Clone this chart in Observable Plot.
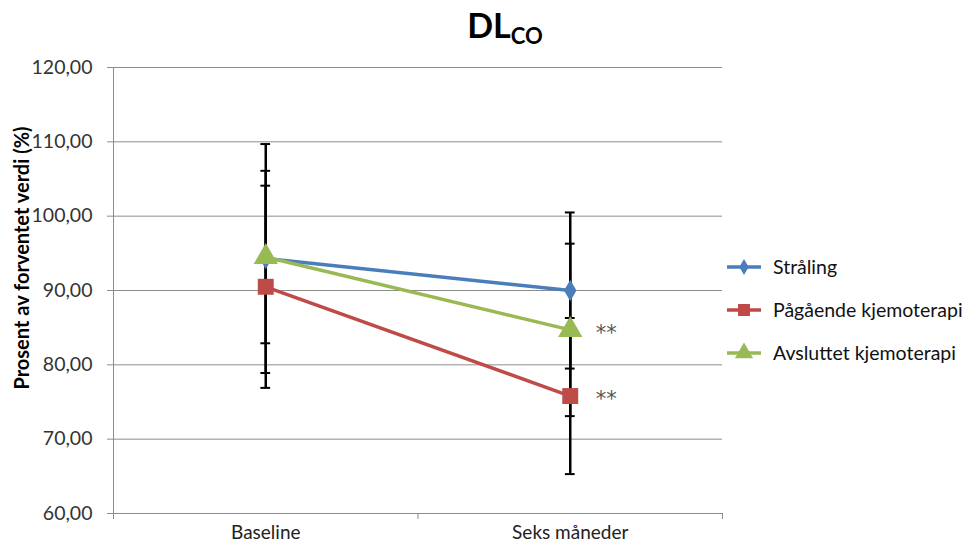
<!DOCTYPE html>
<html>
<head>
<meta charset="utf-8">
<script src="https://cdn.jsdelivr.net/npm/d3@7"></script>
<script src="https://cdn.jsdelivr.net/npm/@observablehq/plot@0.6"></script>
<style>
  body { margin: 0; background: #fff; font-family: Lato, "Open Sans", sans-serif; }
  #wrap { position: relative; width: 973px; height: 549px; }
  #title { position: absolute; left: 405px; width: 200px; top: 8px; text-align: center;
           font-size: 34px; font-weight: bold; color: #000; line-height: 1; }
  #title sub { font-size: 22px; vertical-align: -6px; }
  #ylabel { position: absolute; left: 21px; top: 258px; transform: translate(-50%, -50%) rotate(-90deg);
            white-space: nowrap; font-size: 20px; font-weight: bold; color: #000; }
  #legend { position: absolute; left: 726px; top: 245px; }
  .item { display: flex; align-items: center; height: 43px; font-size: 19.5px; color: #111; }
  .item svg { margin-right: 11px; }
</style>
</head>
<body>
<div id="wrap">
  <div id="title">DL<sub>CO</sub></div>
  <div id="ylabel">Prosent av forventet verdi (%)</div>
  <div id="legend"></div>
</div>
<script>
// Time points and groups
const categories = ["Baseline", "Seks måneder"];
const series = ["Stråling", "Pågående kjemoterapi", "Avsluttet kjemoterapi"];
const colors = ["#4a7ebb", "#be4b48", "#98b954"];
const symbols = ["diamond", "square", "triangle"];
const markerR = [6.5, 9, 9];

// Mean DLCO (% of predicted) and standard deviation per group
const meanStraling = [94.3, 90.0];
const meanPagaende = [90.5, 75.8];
const meanAvsluttet = [94.5, 84.7];
const sdStraling = [15.4, 10.5];
const sdPagaende = [13.6, 10.5];
const sdAvsluttet = [11.6, 11.6];
// Significance flags per group and time point
const sigStraling = ["", ""];
const sigPagaende = ["", "**"];
const sigAvsluttet = ["", "**"];

const yTicks = [60, 70, 80, 90, 100, 110, 120];

const means = [meanStraling, meanPagaende, meanAvsluttet];
const sds = [sdStraling, sdPagaende, sdAvsluttet];
const sigs = [sigStraling, sigPagaende, sigAvsluttet];

const rows = series.flatMap((s, k) =>
  categories.map((c, i) => ({series: s, k, x: i, y: means[k][i], sd: sds[k][i], sig: sigs[k][i]}))
);
const caps = rows.flatMap(d => [{x: d.x, v: d.y - d.sd}, {x: d.x, v: d.y + d.sd}]);

const grid = "#8c8c8c";
const fmt = d => d.toFixed(2).replace(".", ",");

const chart = Plot.plot({
  width: 973,
  height: 549,
  marginLeft: 113,
  marginRight: 251,
  marginTop: 67,
  marginBottom: 36,
  x: {domain: [-0.5, 1.5], axis: null},
  y: {domain: [60, 120], axis: null},
  color: {domain: series, range: colors},
  style: {fontFamily: "Lato, 'Open Sans', sans-serif", background: "transparent", overflow: "visible"},
  marks: [
    Plot.ruleY(yTicks.slice(1), {stroke: grid, strokeWidth: 1}),
    Plot.ruleY([60], {stroke: grid, strokeWidth: 1}),
    Plot.ruleX([-0.5], {stroke: grid, strokeWidth: 1}),
    Plot.axisY({ticks: yTicks, tickSize: 6, tickPadding: 15, tickFormat: fmt, fontSize: 19.5,
                stroke: grid, fill: "#333", label: null}),
    Plot.axisX({ticks: [-0.5, 0.5, 1.5], tickSize: 6, tickFormat: () => "", stroke: grid, label: null}),
    Plot.axisX({ticks: [0, 1], tickSize: 0, tickPadding: 12, tickFormat: i => categories[i],
                fontSize: 19, fill: "#222", label: null}),
    // error bars with caps
    Plot.ruleX(rows, {x: "x", y1: d => d.y - d.sd, y2: d => d.y + d.sd, stroke: "#000", strokeWidth: 2.5}),
    Plot.ruleY(caps, {y: "v", x1: d => d.x - 0.016, x2: d => d.x + 0.016, stroke: "#000", strokeWidth: 2}),
    // group lines and markers
    Plot.line(rows, {x: "x", y: "y", z: "series", stroke: "series", strokeWidth: 3.5}),
    ...series.map((s, k) =>
      Plot.dot(rows.filter(d => d.k === k), {x: "x", y: "y", symbol: () => symbols[k],
        r: markerR[k], fill: colors[k], stroke: "none"})
    ),
    // significance markers beside the six-month points
    Plot.text(rows.filter(d => d.sig), {x: "x", y: "y", text: "sig", dx: 36, dy: 3,
      fontSize: 21, fontFamily: "DejaVu Sans", fill: "#555", style: "letter-spacing:2px"})
  ]
});
chart.style.position = "absolute";
chart.style.left = "0";
chart.style.top = "0";
document.getElementById("wrap").prepend(chart);

// Legend
const legend = d3.select("#legend");
series.forEach((s, k) => {
  const item = legend.append("div").attr("class", "item");
  const svg = item.append("svg").attr("width", 36).attr("height", 20);
  svg.append("line").attr("x1", 1).attr("x2", 35).attr("y1", 10).attr("y2", 10)
     .attr("stroke", colors[k]).attr("stroke-width", 3.5);
  const sym = {diamond: d3.symbolDiamond, square: d3.symbolSquare, triangle: d3.symbolTriangle}[symbols[k]];
  svg.append("path").attr("transform", "translate(18,10)")
     .attr("d", d3.symbol(sym, Math.PI * (markerR[k] * 0.75) ** 2)()).attr("fill", colors[k]);
  item.append("span").text(s);
});
</script>
</body>
</html>
